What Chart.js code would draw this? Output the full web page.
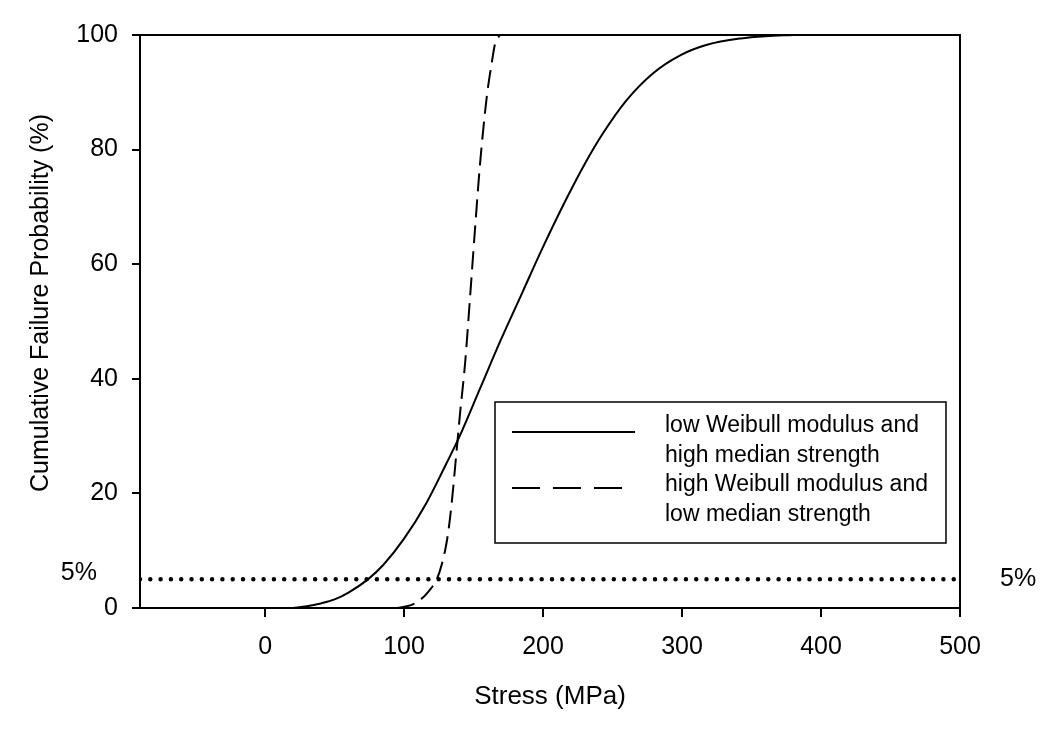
<!DOCTYPE html>
<html>
<head>
<meta charset="utf-8">
<script src="https://cdn.jsdelivr.net/npm/chart.js@4/dist/chart.umd.min.js"></script>
<style>
  body { margin: 0; background: #fff; }
  canvas { display: block; }
</style>
</head>
<body>
<canvas id="myChart" width="1050" height="732"></canvas>
<script>
// data
var solidX = [20, 30, 40, 50, 60, 74, 85, 100, 116, 130, 140, 155, 170, 185, 199, 217, 230, 243, 260, 279, 299, 318, 342, 360, 380];
var solidY = [0, 0.3, 0.8, 1.5, 2.7, 5, 7.5, 12.1, 18.3, 25, 30, 38.5, 47, 55, 62.5, 71.5, 77.5, 82.8, 88.6, 93.3, 96.5, 98.3, 99.4, 99.8, 100];
var dashX = [95, 105, 112, 118, 123.5, 127, 131, 134, 138, 140.3, 143.9, 147.5, 151, 154.7, 159.5, 163, 165.5, 169];
var dashY = [0, 0.5, 1.5, 3, 5, 7.5, 12, 17.7, 28, 34, 42.7, 54.3, 66, 77.6, 89.2, 95, 98.5, 100];
var refLevel = 5;
var xTicks = [0, 100, 200, 300, 400, 500];
var yTicks = [0, 20, 40, 60, 80, 100];
var xMin = -90, xMax = 500;
var seriesNames = [
    ["low Weibull modulus and", "high median strength"],
    ["high Weibull modulus and", "low median strength"]
];
var yTitle = 'Cumulative Failure Probability (%)';

var FONT = "Arial, 'Liberation Sans', sans-serif";

function toPoints(xs, ys) {
    return xs.map(function(x, i) { return { x: x, y: ys[i] }; });
}

// frame round the plot, y title, the 5% labels and the legend box
var extras = {
    id: 'extras',
    afterDatasetsDraw: function(chart) {
        var c = chart.ctx, a = chart.chartArea;
        var ys = chart.scales.y;
        c.save();
        c.strokeStyle = '#000';
        c.lineWidth = 2;
        c.strokeRect(a.left, a.top, a.right - a.left, a.bottom - a.top);

        // y title (sits a bit above the middle of the axis)
        c.fillStyle = '#000';
        c.font = '25px ' + FONT;
        c.textAlign = 'center';
        c.textBaseline = 'middle';
        c.save();
        c.translate(41, 303);
        c.rotate(-Math.PI / 2);
        c.fillText(yTitle, 0, 0);
        c.restore();

        // 5% labels on both sides
        var y5 = ys.getPixelForValue(refLevel);
        c.font = '25px ' + FONT;
        c.textBaseline = 'middle';
        c.textAlign = 'right';
        c.fillText(refLevel + '%', 97, y5 - 6);
        c.textAlign = 'left';
        c.fillText(refLevel + '%', a.right + 40, y5);

        // legend
        var bx = 495, by = 402, bw = 451, bh = 141;
        c.fillStyle = '#fff';
        c.fillRect(bx, by, bw, bh);
        c.lineWidth = 1.5;
        c.strokeRect(bx, by, bw, bh);
        c.lineWidth = 2;
        c.beginPath();
        c.moveTo(512, 432); c.lineTo(635, 432);
        c.stroke();
        c.setLineDash([28, 13]);
        c.beginPath();
        c.moveTo(512, 488); c.lineTo(635, 488);
        c.stroke();
        c.setLineDash([]);
        c.fillStyle = '#000';
        c.font = '23px ' + FONT;
        c.textAlign = 'left';
        c.textBaseline = 'alphabetic';
        var lines = seriesNames[0].concat(seriesNames[1]);
        var base = [432, 462, 491, 521];
        lines.forEach(function(t, i) { c.fillText(t, 665, base[i]); });
        c.restore();
    }
};

var ctx = document.getElementById('myChart').getContext('2d');
var chart = new Chart(ctx, {
    type: 'line',
    data: {
        datasets: [{
                label: seriesNames[0].join(' '),
                data: toPoints(solidX, solidY),
                borderColor: '#000',
                borderWidth: 2,
                pointRadius: 0,
                cubicInterpolationMode: 'monotone',
                fill: false
            },
            {
                label: seriesNames[1].join(' '),
                data: toPoints(dashX, dashY),
                borderColor: '#000',
                borderWidth: 2,
                borderDash: [18, 8],
                pointRadius: 0,
                cubicInterpolationMode: 'monotone',
                fill: false
            },
            {
                label: '5%',
                data: [{ x: xMin, y: refLevel }, { x: xMax, y: refLevel }],
                borderColor: '#000',
                borderWidth: 4.5,
                borderDash: [0, 10.3],
                borderCapStyle: 'round',
                pointRadius: 0,
                fill: false
            }
        ]
    },
    options: {
        responsive: false,
        animation: false,
        layout: { padding: { top: 35, right: 90, left: 0, bottom: 0 } },
        plugins: {
            legend: { display: false },
            tooltip: { enabled: false }
        },
        scales: {
            x: {
                type: 'linear',
                min: xMin,
                max: xMax,
                afterBuildTicks: function(scale) {
                    scale.ticks = xTicks.map(function(v) { return { value: v }; });
                },
                afterFit: function(scale) { scale.height = 124; },
                grid: { drawOnChartArea: false, tickLength: 9, color: '#000', lineWidth: 2 },
                border: { color: '#000', width: 2 },
                ticks: { color: '#000', font: { family: FONT, size: 25 }, padding: 15, maxRotation: 0 },
                title: {
                    display: true,
                    text: 'Stress (MPa)',
                    color: '#000',
                    font: { family: FONT, size: 26 },
                    padding: { top: 0, bottom: 20 }
                }
            },
            y: {
                min: 0,
                max: 100,
                afterBuildTicks: function(scale) {
                    scale.ticks = yTicks.map(function(v) { return { value: v }; });
                },
                afterFit: function(scale) { scale.width = 140; },
                grid: { drawOnChartArea: false, tickLength: 8, color: '#000', lineWidth: 2 },
                border: { color: '#000', width: 2 },
                ticks: { color: '#000', font: { family: FONT, size: 25 }, padding: 14 }
            }
        }
    },
    plugins: [extras]
});
</script>
</body>
</html>
